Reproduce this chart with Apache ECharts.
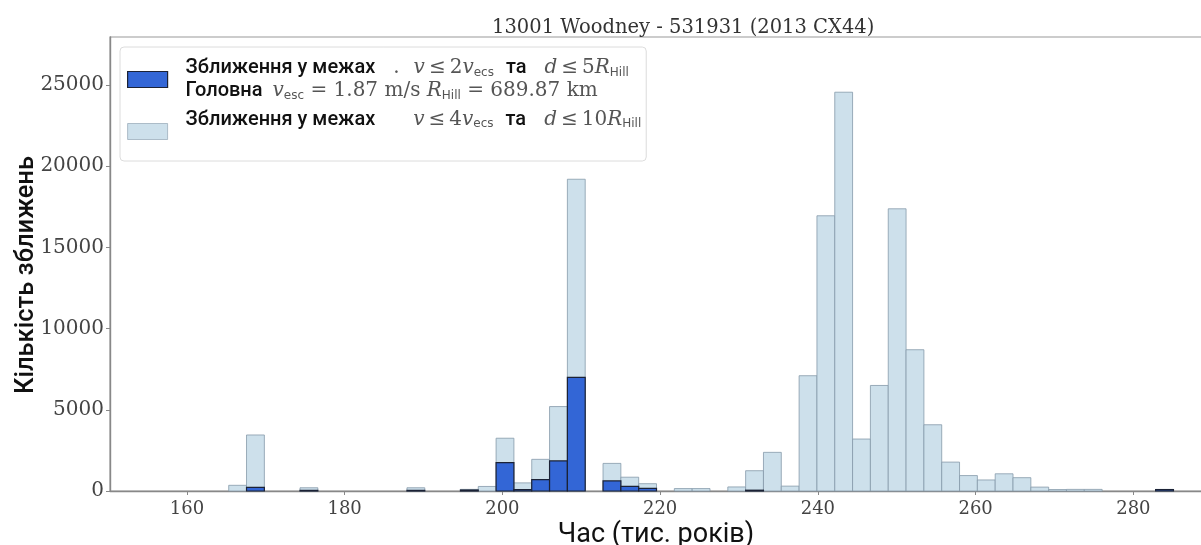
<!DOCTYPE html>
<html>
<head>
<meta charset="utf-8">
<script src="https://cdn.jsdelivr.net/npm/echarts@6/dist/echarts.min.js"></script>
<style>html,body{margin:0;padding:0;background:#fff}#c{width:1201px;height:545px}</style>
</head>
<body>
<div id="c"></div>
<script>
// Histogram bins (thousand years): left edges, common width
const binWidth = 2.26;
const binLeft = [165.30,167.56,169.82,172.08,174.34,176.60,178.86,181.12,183.38,185.64,
  187.90,190.16,192.42,194.68,196.94,199.20,201.46,203.72,205.98,208.24,
  210.50,212.76,215.02,217.28,219.54,221.80,224.06,226.32,228.58,230.84,
  233.10,235.36,237.62,239.88,242.14,244.40,246.66,248.92,251.18,253.44,
  255.70,257.96,260.22,262.48,264.74,267.00,269.26,271.52,273.78,276.04,
  278.30,280.56,282.82];
// v <= 4 v_esc, d <= 10 R_Hill
const countsWide = [350,3450,0,0,200,0,0,0,0,0,
  200,0,0,100,280,3250,500,1950,5200,19200,
  0,1700,850,450,0,150,150,0,250,1250,
  2380,300,7100,16950,24560,3200,6500,17380,8700,4080,
  1780,950,680,1060,820,240,90,100,100,0,
  0,0,100];
// v <= 2 v_esc, d <= 5 R_Hill
const countsClose = [0,220,0,0,40,0,0,0,0,0,
  40,0,0,60,0,1750,80,700,1850,7000,
  0,620,280,160,0,0,0,0,0,50,
  0,0,0,0,0,0,0,0,0,0,
  0,0,0,0,0,0,0,0,0,0,
  0,0,90];
const xTicks = [160,180,200,220,240,260,280];
const yTicks = [0,5000,10000,15000,20000,25000];

const titleText = '13001 Woodney - 531931 (2013 CX44)';
const xName = 'Час (тис. років)';
const yName = 'Кількість зближень';

function toData(counts){
  return binLeft.map((l,i)=>[l, l+binWidth, counts[i]]);
}
function makeRender(fill, stroke, lw){
  return function(params, api){
    const x0 = api.value(0), x1 = api.value(1), v = api.value(2);
    if (!v) return null;
    const p0 = api.coord([x0, v]);
    const p1 = api.coord([x1, 0]);
    return {type:'rect', shape:{x:p0[0], y:p0[1], width:p1[0]-p0[0], height:p1[1]-p0[1]},
      style:{fill:fill, stroke:stroke, lineWidth:lw}};
  };
}
const LIGHT = '#cde0eb', LIGHT_EDGE = '#8599aa';
const BLUE = '#3366d6', BLUE_EDGE = '#1b2236';

const serif = "'DejaVu Serif', serif";
const base = {lineHeight:23, verticalAlign:'middle'};
const rich = {
  p:{width:13},
  t:Object.assign({fontFamily:'Roboto', fontWeight:500, fontSize:20, color:'#111'}, base),
  m:Object.assign({fontFamily:serif, fontSize:20, color:'#555'}, base),
  i:Object.assign({fontFamily:serif, fontStyle:'italic', fontSize:20, color:'#555'}, base),
  s:{fontFamily:"'DejaVu Sans', sans-serif", fontSize:12, color:'#555', padding:[9,0,0,0], verticalAlign:'middle'},
  q:{width:4}, g1:{width:18}, g2:{width:14}, g3:{width:12}, g4:{width:18}, g5:{width:38}, g6:{width:10},
  e:{fontSize:10, lineHeight:24}
};
const le = '{q|}{m|≤}{q|}';
const legendText = {
  close: '{p|}{t|Зближення у межах}{g1|}{m|.}{g2|}{i|v}' + le + '{m|2}{i|v}{s|ecs}{g3|}{t|та}{g4|}{i|d}' + le + '{m|5}{i|R}{s|Hill}\n' +
         '{p|}{t|Головна}{g6|}{i|v}{s|esc}{m| = 1.87 m/s }{i|R}{s|Hill}{m| = 689.87 km}',
  wide: '{p|}{t|Зближення у межах}{g5|}{i|v}' + le + '{m|4}{i|v}{s|ecs}{g3|}{t|та}{g4|}{i|d}' + le + '{m|10}{i|R}{s|Hill}\n{e| }'
};

const chart = echarts.init(document.getElementById('c'), null, {renderer:'canvas'});
chart.setOption({
  animation:false,
  title:{text:titleText, left:492, top:18, padding:0,
    textStyle:{fontFamily:serif, fontWeight:'normal', fontSize:19.5, color:'#333'}},
  grid:{left:110, right:-1, top:37, bottom:54, outerBoundsMode:'none', show:true, borderColor:'#999', borderWidth:1.2, backgroundColor:'transparent'},
  legend:{
    orient:'vertical', left:120, top:47,
    padding:[11,5,13,7], itemGap:8, itemWidth:40, itemHeight:16,
    backgroundColor:'#fff', borderColor:'#dcdcdc', borderWidth:1, borderRadius:4,
    data:[
      {name:'close', icon:'rect', itemStyle:{color:BLUE, borderColor:BLUE_EDGE, borderWidth:1.2}},
      {name:'wide', icon:'rect', itemStyle:{color:LIGHT, borderColor:LIGHT_EDGE, borderWidth:0.6}}
    ],
    formatter: n => legendText[n],
    textStyle:{rich:rich},
    selectedMode:false
  },
  xAxis:{type:'value', min:150.25, max:288.7, splitNumber:7,
    name:xName, nameLocation:'middle', nameGap:31, nameMoveOverlap:false,
    nameTextStyle:{fontFamily:'Roboto', fontSize:27, color:'#111'},
    axisLine:{show:true, lineStyle:{color:'#888', width:1.4}},
    axisTick:{show:true, length:4, lineStyle:{color:'#888'}},
    axisLabel:{fontFamily:serif, fontSize:18, color:'#444', margin:9, showMinLabel:false, showMaxLabel:false,
      formatter: v => xTicks.indexOf(v) >= 0 ? String(v) : ''},
    splitLine:{show:false}
  },
  yAxis:{type:'value', min:0, max:27960, interval:5000,
    name:yName, nameLocation:'middle', nameGap:70, nameMoveOverlap:false,
    nameTextStyle:{fontFamily:'Roboto', fontWeight:500, fontSize:25.5, color:'#111', padding:[0,22,0,0]},
    axisLine:{show:true, lineStyle:{color:'#888', width:1.4}},
    axisTick:{show:true, length:4, lineStyle:{color:'#888'}},
    axisLabel:{fontFamily:serif, fontSize:20, color:'#444', margin:6, showMaxLabel:false,
      formatter: v => yTicks.indexOf(v) >= 0 ? String(v) : ''},
    splitLine:{show:false}
  },
  series:[
    {name:'wide', type:'custom', renderItem:makeRender(LIGHT, LIGHT_EDGE, 0.8),
      itemStyle:{color:LIGHT}, encode:{x:[0,1], y:2}, data:toData(countsWide), z:2},
    {name:'close', type:'custom', renderItem:makeRender(BLUE, BLUE_EDGE, 1.2),
      itemStyle:{color:BLUE}, encode:{x:[0,1], y:2}, data:toData(countsClose), z:3}
  ]
});
</script>
</body>
</html>
